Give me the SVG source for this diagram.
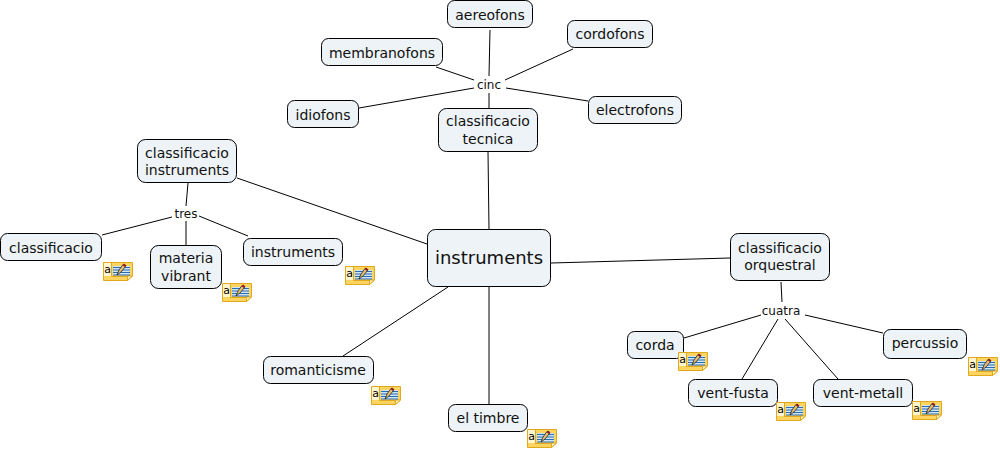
<svg xmlns="http://www.w3.org/2000/svg" width="1000" height="450" viewBox="0 0 1000 450">
<style>
.n{fill:#edf3f6;stroke:#000;stroke-width:1}
text{font-family:"DejaVu Sans",Verdana,sans-serif;font-size:14px;fill:#111;text-anchor:middle}
.l{font-size:12px}
#connectors line{stroke:#000;stroke-width:1;fill:none}
</style>
<defs>
<g id="note">
<path d="M.5 .5H29.5V14L24.5 18.5H.5Z" fill="#fdd45f" stroke="#e0a81c"/>
<path d="M24.5 18.5V14H29.5Z" fill="#fff3c0" stroke="#e0a81c"/>
<rect x="1" y="1" width="7" height="13" fill="#fff6cf"/>
<path d="M8.500 1V14.500H24" fill="none" stroke="#e0a81c"/>
<rect x="10" y="4" width="17" height="9" fill="#cfe4f4"/>
<path d="M10 5.500H27M10 8H27M10 10.500H27M10 13H27" stroke="#2a6cb0" stroke-width="1"/>
<path d="M14 13L16 8L20 2.500L22.500 4.500L18 10Z" fill="#e8c070" stroke="#222" stroke-width=".8"/>
<path d="M19.500 3L21 1.500L23.500 3.500L22 5Z" fill="#8c1c24"/>
<text x="4.500" y="10.500" style="font-size:11px;fill:#000">a</text>
</g>
</defs>
<g id="connectors">
<line x1="490" y1="30" x2="489" y2="76"/>
<line x1="573" y1="49" x2="505" y2="80"/>
<line x1="588" y1="101" x2="506" y2="88"/>
<line x1="436" y1="67" x2="474" y2="80"/>
<line x1="359" y1="108" x2="474" y2="88"/>
<line x1="489" y1="93" x2="489" y2="108"/>
<line x1="488" y1="152" x2="489" y2="229"/>
<line x1="237" y1="178" x2="427" y2="244"/>
<line x1="188" y1="183" x2="186" y2="206"/>
<line x1="172" y1="217" x2="102" y2="235"/>
<line x1="199" y1="216" x2="248" y2="236"/>
<line x1="186" y1="221" x2="186" y2="245"/>
<line x1="551" y1="263" x2="730" y2="258"/>
<line x1="448" y1="287" x2="343" y2="356"/>
<line x1="489" y1="287" x2="489" y2="404"/>
<line x1="781" y1="282" x2="782" y2="302"/>
<line x1="761" y1="315" x2="684" y2="338"/>
<line x1="778" y1="319" x2="742" y2="379"/>
<line x1="785" y1="319" x2="838" y2="379"/>
<line x1="805" y1="315" x2="883" y2="333"/>
</g>
<g id="n-aereofons"><rect class="n" x="447.500" y="0.500" width="85" height="27" rx="7"/><text x="490" y="20">aereofons</text></g>
<g id="n-cordofons"><rect class="n" x="567.500" y="20.500" width="85" height="27" rx="7"/><text x="610" y="39">cordofons</text></g>
<g id="n-membranofons"><rect class="n" x="321.500" y="38.500" width="121" height="27" rx="7"/><text x="382" y="58">membranofons</text></g>
<g id="n-idiofons"><rect class="n" x="287.500" y="100.500" width="71" height="27" rx="7"/><text x="323" y="120">idiofons</text></g>
<g id="n-electrofons"><rect class="n" x="588.500" y="96.500" width="93" height="27" rx="7"/><text x="635" y="115">electrofons</text></g>
<g id="n-cinc"><text class="l" x="489" y="89">cinc</text></g>
<g id="n-tecnica"><rect class="n" x="438.500" y="108.500" width="99" height="43" rx="8"/><text x="488" y="126">classificacio</text><text x="488" y="144">tecnica</text></g>
<g id="n-cinstruments"><rect class="n" x="137.500" y="139.500" width="99" height="43" rx="8"/><text x="187" y="158">classificacio</text><text x="187" y="175">instruments</text></g>
<g id="n-tres"><text class="l" x="186" y="218">tres</text></g>
<g id="n-classificacio"><rect class="n" x="0.500" y="233.500" width="101" height="27" rx="7"/><text x="51" y="253">classificacio</text></g>
<g id="n-materia"><rect class="n" x="150.500" y="245.500" width="71" height="43" rx="8"/><text x="186" y="263">materia</text><text x="186" y="281">vibrant</text></g>
<g id="n-instruments2"><rect class="n" x="243.500" y="238.500" width="99" height="27" rx="7"/><text x="293" y="257">instruments</text></g>
<g id="n-instruments"><rect class="n" x="427.500" y="229.500" width="123" height="57" rx="8"/><text x="489" y="264" style="font-size:18px">instruments</text></g>
<g id="n-orquestral"><rect class="n" x="730.500" y="233.500" width="99" height="47" rx="8"/><text x="780" y="253">classificacio</text><text x="780" y="270">orquestral</text></g>
<g id="n-cuatra"><text class="l" x="781" y="315">cuatra</text></g>
<g id="n-corda"><rect class="n" x="627.500" y="331.500" width="56" height="27" rx="7"/><text x="655" y="350">corda</text></g>
<g id="n-percussio"><rect class="n" x="883.500" y="329.500" width="83" height="29" rx="7"/><text x="925" y="348">percussio</text></g>
<g id="n-ventfusta"><rect class="n" x="688.500" y="379.500" width="89" height="27" rx="7"/><text x="733" y="398">vent-fusta</text></g>
<g id="n-ventmetall"><rect class="n" x="813.500" y="379.500" width="99" height="27" rx="7"/><text x="863" y="398">vent-metall</text></g>
<g id="n-romanticisme"><rect class="n" x="263.500" y="356.500" width="110" height="27" rx="7"/><text x="318" y="375">romanticisme</text></g>
<g id="n-timbre"><rect class="n" x="448.500" y="404.500" width="79" height="27" rx="7"/><text x="488" y="423">el timbre</text></g>
<g id="icons">
<use href="#note" x="103" y="262"/>
<use href="#note" x="222" y="283"/>
<use href="#note" x="345" y="266"/>
<use href="#note" x="678" y="352"/>
<use href="#note" x="968" y="357"/>
<use href="#note" x="776" y="402"/>
<use href="#note" x="912" y="401"/>
<use href="#note" x="371" y="386"/>
<use href="#note" x="527" y="429"/>
</g>
</svg>
